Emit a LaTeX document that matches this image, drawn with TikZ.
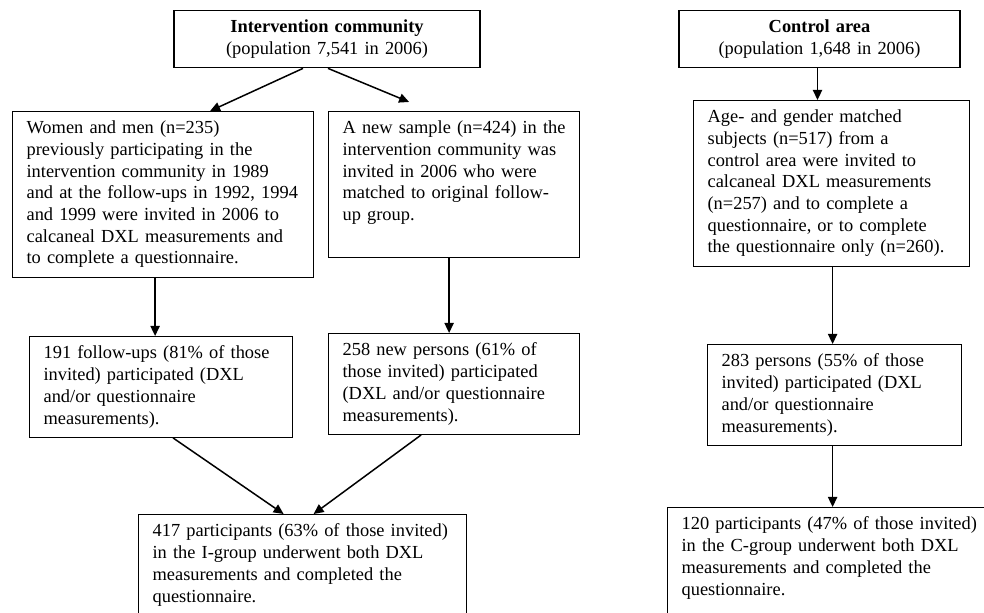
\documentclass[tikz,border=0pt]{standalone}
\usepackage{fontspec}
\setmainfont{Liberation Serif}
\usetikzlibrary{arrows.meta,calc}
\tikzset{
    box/.style={draw, line width=0.6pt, anchor=north west,
        inner xsep=7pt, inner ysep=4.7pt, text width=#1,
        font=\fontsize{9.2}{10.85}\selectfont,
        execute at begin node=\raggedright},
    head/.style={box=#1, anchor=north, execute at begin node=\centering},
    link/.style={-{Triangle[length=5pt,width=4.6pt]}, line width=0.75pt}
}
\begin{document}
\begin{tikzpicture}[x=0.5pt,y=-0.5pt]
    \path[use as bounding box, clip] (0,0) rectangle (984,613);
    % Intervention side
    \node[head=139pt] (inter) at (327,10) {\textbf{Intervention community}\\(population 7,541 in 2006)};
    \node[box=136.5pt] (women) at (12,111) {Women and men (n=235)\\previously participating in the\\intervention community in 1989\\and at the follow-ups in 1992, 1994\\and 1999 were invited in 2006 to\\calcaneal DXL measurements and\\to complete a questionnaire.};
    \node[box=111.5pt, text depth=57pt] (newsmp) at (328,111) {A new sample (n=424) in the\\intervention community was\\invited in 2006 who were\\matched to original follow-\\up group.};
    \node[box=117.5pt] (follow) at (29,336) {191 follow-ups (81\% of those\\invited) participated (DXL\\and/or questionnaire\\measurements).};
    \node[box=111.5pt] (newpers) at (328,333) {258 new persons (61\% of\\those invited) participated\\(DXL and/or questionnaire\\measurements).};
    \node[box=150pt, text depth=45pt] (igroup) at (138,514) {417 participants (63\% of those invited)\\in the I-group underwent both DXL\\measurements and completed the\\questionnaire.};
    % Control side
    \node[head=126.5pt] (ctrl) at (819.5,10) {\textbf{Control area}\\(population 1,648 in 2006)};
    \node[box=124pt] (agesub) at (693,100) {Age- and gender matched\\subjects (n=517) from a\\control area were invited to\\calcaneal DXL measurements\\(n=257) and to complete a\\questionnaire, or to complete\\the questionnaire only (n=260).};
    \node[box=113pt] (persons) at (707,344) {283 persons (55\% of those\\invited) participated (DXL\\and/or questionnaire\\measurements).};
    \node[box=150pt, text depth=45pt] (cgroup) at (667,507) {120 participants (47\% of those invited)\\in the C-group underwent both DXL\\measurements and completed the\\questionnaire.};

    % Arrows
    \draw[link] ($(inter.south)+(-24,0)$) -- ($(women.north)+(47,0)$);
    \draw[link] ($(inter.south)+(1,0)$) -- ($(newsmp.north)+(-45,-9)$);
    \draw[link] ($(women.south)+(-8,0)$) coordinate (w) -- (w |- follow.north);
    \draw[link] ($(newsmp.south)+(-5,0)$) coordinate (n) -- (n |- newpers.north);
    \draw[link] ($(follow.south)+(12,0)$) -- ($(igroup.north)+(-19,0)$);
    \draw[link] ($(newpers.south)+(-33,0)$) -- ($(igroup.north)+(11,0)$);
    \draw[link] ($(ctrl.south)+(-2,0)$) coordinate (c) -- (c |- agesub.north);
    \draw[link] ($(agesub.south)+(1,0)$) coordinate (a) -- (a |- persons.north);
    \draw[link] (a |- persons.south) -- (a |- cgroup.north);
\end{tikzpicture}
\end{document}
